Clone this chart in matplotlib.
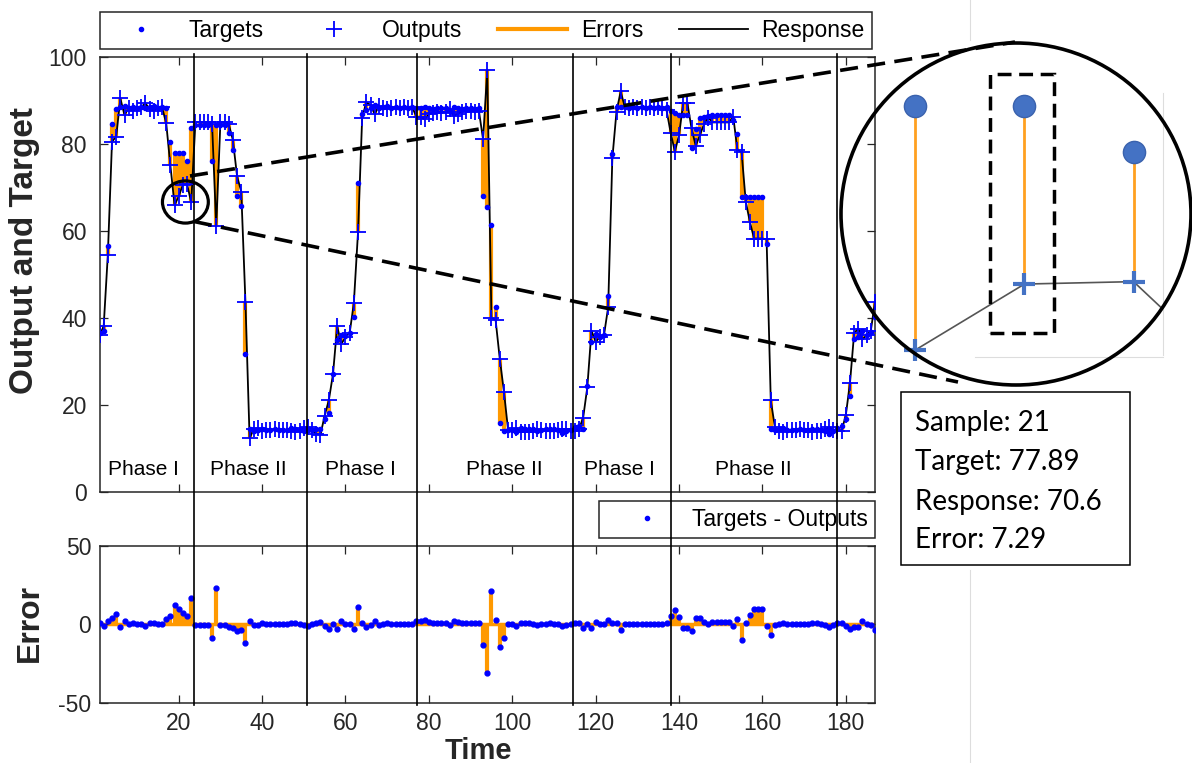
import numpy as np
import matplotlib

matplotlib.use("Agg")
import matplotlib.pyplot as plt
from matplotlib.lines import Line2D
from matplotlib.patches import Ellipse, Rectangle

# ---- data ------------------------------------------------------------------
targets = [
    36.5, 37.0, 56.5, 84.5, 88.0, 88.4, 88.6, 88.3, 88.5, 88.2,
    88.4, 88.3, 88.5, 88.6, 88.3, 88.4, 88.2, 80.5, 77.9, 77.9,
    77.89, 76.0, 83.5, 84.3, 84.4, 84.3, 84.4, 76.0, 84.3, 84.4,
    84.3, 82.5, 78.5, 68.0, 65.6, 31.7, 14.3, 14.0, 14.2, 14.5,
    14.2, 14.1, 14.3, 14.2, 14.2, 14.1, 14.6, 14.5, 14.2, 14.0,
    14.1, 14.2, 14.3, 14.4, 16.7, 18.0, 27.0, 34.8, 36.0, 35.7,
    36.5, 40.1, 70.9, 86.8, 87.8, 88.3, 88.8, 88.2, 88.4, 88.6,
    88.3, 88.4, 88.3, 88.4, 88.3, 88.4, 88.2, 88.2, 88.4, 88.1,
    88.0, 88.2, 88.1, 88.3, 87.6, 88.4, 88.2, 88.0, 88.1, 88.2,
    88.0, 88.1, 68.0, 65.5, 61.3, 42.5, 15.9, 14.0, 14.2, 14.2,
    13.8, 14.6, 14.5, 14.4, 14.3, 13.9, 14.2, 14.4, 14.5, 14.3,
    14.1, 13.6, 13.9, 14.2, 14.8, 15.0, 14.4, 24.4, 34.4, 36.2,
    35.5, 36.0, 45.0, 77.7, 88.5, 88.4, 88.4, 88.3, 88.4, 88.3,
    88.4, 88.3, 88.4, 88.3, 88.4, 88.3, 88.5, 87.6, 87.0, 86.5,
    86.7, 86.7, 79.0, 83.3, 85.8, 86.2, 86.4, 86.6, 86.6, 86.6,
    86.6, 86.6, 85.4, 82.2, 67.7, 67.8, 67.8, 67.8, 67.8, 67.8,
    56.9, 14.4, 14.2, 14.3, 14.6, 14.2, 14.1, 14.2, 14.3, 14.2,
    14.1, 14.4, 14.5, 14.2, 13.9, 13.2, 14.0, 14.6, 15.1, 16.8,
    22.0, 35.0, 35.6, 36.9, 36.0, 36.6, 40.1,
]
errors = [
    0.5, -1.0, 2.0, 4.0, 6.4, -2.0, 2.0, 0.0, 1.0, 0.0,
    0.0, -1.0, 0.5, 1.0, 0.0, 0.0, 3.5, 5.5, 12.0, 10.0,
    7.29, 5.3, 17.0, -0.6, -0.6, -0.6, -0.6, -8.5, 23.3, -0.6,
    -0.6, -2.0, -2.3, -4.5, -3.4, -12.0, 2.0, -0.4, -0.4, 0.6,
    0.0, 0.0, 0.0, 0.0, 0.0, 0.0, 0.6, 0.8, 0.2, -0.6,
    -0.8, 0.0, 1.0, 1.3, -0.8, -3.0, 0.0, -3.2, 2.0, 0.2,
    0.0, -3.2, 11.3, 0.8, -1.7, -0.6, 2.0, -0.4, 0.2, 0.6,
    0.0, 0.0, 0.0, 0.0, 0.0, 0.0, 2.0, 2.0, 2.8, 1.3,
    1.0, 1.0, 1.0, 1.0, -0.4, 2.0, 1.3, 0.6, 0.6, 0.6,
    0.6, 0.6, -13.0, -31.4, 21.4, 3.0, -14.7, -9.0, 0.0, 0.0,
    -0.8, 0.8, 0.8, 0.6, 0.4, -0.4, 0.0, 0.4, 0.6, 0.4,
    0.0, -0.8, -0.4, 0.2, 0.8, 0.6, -2.6, 0.4, -2.6, 1.7,
    0.0, 0.0, 2.6, 1.1, 1.1, -3.6, 0.0, 0.0, 0.0, 0.0,
    0.0, 0.0, 0.0, 0.0, 0.0, 0.0, 0.8, 5.1, 8.8, 4.5,
    -2.6, -2.6, -4.5, 3.8, 3.8, 1.7, 0.4, 1.7, 1.7, 1.7,
    1.7, 1.7, -0.8, 3.6, -10.3, 1.1, 5.8, 9.6, 9.6, 9.6,
    -1.1, -6.6, -0.6, 0.4, 0.8, 0.0, 0.0, 0.0, 0.0, 0.0,
    0.0, 0.6, 0.6, 0.2, -0.4, -1.7, -0.2, 0.6, 1.1, -0.8,
    -3.0, -1.5, -1.9, 1.9, 0.0, -0.4, -3.6,
]
phase_bounds = [23.5, 50.7, 77.1, 114.5, 138.1, 177.8]
phase_names = ["Phase I", "Phase II", "Phase I", "Phase II", "Phase I", "Phase II"]
phase_centers = [11.5, 36.7, 63.7, 98.2, 125.7, 157.9]
x_ticks = [20, 40, 60, 80, 100, 120, 140, 160, 180]
zoom_sample = 21

samples = np.arange(1, len(targets) + 1)
t = np.array(targets)
e = np.array(errors)
outputs = t - e

W, H = 1192, 763
ORANGE = "#FF9900"
BLUE = "#0000FF"
INSET_BLUE = "#4472C4"
EDGE = "#262626"

plt.rcParams["font.family"] = ["Liberation Sans", "DejaVu Sans"]
plt.rcParams["axes.unicode_minus"] = False


def fig_xy(px, py):
    return px / W, 1 - py / H


def fig_rect(left, top, right, bottom):
    return [left / W, 1 - bottom / H, (right - left) / W, (bottom - top) / H]


fig = plt.figure(figsize=(W / 100, H / 100), dpi=100)
ax = fig.add_axes(fig_rect(99.5, 56.7, 875, 491.7))
ax_err = fig.add_axes(fig_rect(99.5, 546, 875, 702.5))

# ---- top panel ---------------------------------------------------------------
ax.vlines(samples, t, outputs, color=ORANGE, linewidth=3.0, zorder=1)
ax.plot(samples, outputs, color="black", linewidth=1.3, zorder=2)
ax.plot(samples, outputs, linestyle="none", marker="+", markersize=11,
        markeredgewidth=1.3, color=BLUE, zorder=3)
ax.plot(samples, t, linestyle="none", marker=".", markersize=6, color=BLUE, zorder=4)

for name, cx in zip(phase_names, phase_centers):
    ax.text(cx, 5.0, name, ha="center", va="center", fontsize=15)

ax.set_xlim(1, len(targets))
ax.set_ylim(0, 100)
ax.set_yticks(np.arange(0, 101, 20))
ax.set_xticks(x_ticks)
ax.set_xticklabels([])

handles = [
    Line2D([], [], linestyle="none", marker=".", markersize=6, color=BLUE),
    Line2D([], [], linestyle="none", marker="+", markersize=11, markeredgewidth=1.3, color=BLUE),
    Line2D([], [], color=ORANGE, linewidth=3),
    Line2D([], [], color="black", linewidth=1.3),
]
leg = ax.legend(handles, ["Targets", "Outputs", "Errors", "Response"],
                loc="lower left", bbox_to_anchor=(0, 1.0177, 0.9955, 0.05),
                mode="expand", ncol=4, borderaxespad=0, fancybox=False,
                framealpha=1, edgecolor=EDGE, fontsize=16.5, handlelength=3.0,
                handletextpad=0.6, borderpad=0.3)
leg.get_frame().set_linewidth(1.1)

# small zoom circle around the highlighted sample
ax.add_patch(Ellipse((21.6, 66.6), 11.0, 9.7, fill=False, edgecolor="black",
                     linewidth=2.3, clip_on=False, zorder=6))

# ---- error panel -------------------------------------------------------------
ax_err.axhline(0, color=ORANGE, linewidth=2.5, zorder=1)
ax_err.vlines(samples, 0, e, color=ORANGE, linewidth=3.0, zorder=1)
ax_err.plot(samples, e, linestyle="none", marker=".", markersize=7, color=BLUE, zorder=3)
ax_err.set_xlim(1, len(targets))
ax_err.set_ylim(-50, 50)
ax_err.set_yticks([-50, 0, 50])
ax_err.set_xticks(x_ticks)
leg2 = ax_err.legend([handles[0]], ["Targets - Outputs"], loc="lower right",
                     bbox_to_anchor=(0.9995, 1.051), borderaxespad=0, fancybox=False,
                     framealpha=1, edgecolor=EDGE, fontsize=16.5, handlelength=3.6,
                     handletextpad=0.15, borderpad=0.3)
leg2.get_frame().set_linewidth(1.1)

for a, ypad in ((ax, 9), (ax_err, 6)):
    a.tick_params(direction="in", top=True, right=True, length=5.5, width=0.9,
                  labelsize=16.5, colors=EDGE, labelcolor=EDGE)
    a.tick_params(axis="y", pad=ypad)
    for sp in a.spines.values():
        sp.set_linewidth(1.1)
        sp.set_color(EDGE)
ax_err.tick_params(axis="x", pad=7)

fig.text(*fig_xy(25, 250), "Output and Target", rotation=90, ha="center", va="center",
         fontsize=24, fontweight="bold", color=EDGE)
fig.text(*fig_xy(30, 623), "Error", rotation=90, ha="center", va="center",
         fontsize=23, fontweight="bold", color=EDGE)
fig.text(*fig_xy(478, 751), "Time", ha="center", va="center",
         fontsize=21, fontweight="bold", color=EDGE)

# phase boundaries span both panels
x0_px, px_per = 95.85, 4.1675
for b in phase_bounds:
    xb = (x0_px + px_per * b) / W
    fig.add_artist(Line2D([xb, xb], [1 - 54 / H, 1 - 705 / H], color="black",
                          linewidth=1.2, transform=fig.transFigure, zorder=5))

# ---- magnified inset ------------------------------------------------------------
ins = fig.add_axes(fig_rect(899, 60, 1163, 380))
ins.patch.set_alpha(0)
ins.set_axis_off()
i0 = zoom_sample - 2
sel = slice(i0, i0 + 3)
ins.plot(samples[i0:i0 + 4], outputs[i0:i0 + 4], color="#555555", linewidth=1.2, zorder=1)
ins.vlines(samples[sel], outputs[sel], t[sel], color="#FFA020", linewidth=2.0, zorder=2)
ins.plot(samples[sel], t[sel], linestyle="none", marker="o", markersize=16,
         color=INSET_BLUE, markeredgecolor="#3A62AD", zorder=3)
ins.plot(samples[sel], outputs[sel], linestyle="none", marker="+", markersize=16,
         markeredgewidth=3.0, color=INSET_BLUE, zorder=3)
ins.set_xlim(zoom_sample - 1.15, zoom_sample + 1.27)
ins.set_ylim(66.67, 79.78)
ins.add_patch(Rectangle((zoom_sample - 0.32, 68.6), 0.59, 10.6, fill=False,
                        edgecolor="black", linewidth=2.5, linestyle=(0, (4, 2.2)),
                        clip_on=False, zorder=4))

# faint outline of the pasted magnified image
for xs, ys in (([1163, 1163], [93, 355]), ([975, 1163], [357, 357]),
               ([970, 970], [0, 40]), ([970, 970], [570, 763])):
    fig.add_artist(Line2D([x / W for x in xs], [1 - y / H for y in ys],
                          color="#DDDDDD", linewidth=0.8, transform=fig.transFigure))

fig.add_artist(Ellipse(fig_xy(1016, 214), 350 / W, 342 / H, fill=False,
                       edgecolor="black", linewidth=2.6, transform=fig.transFigure, zorder=6))
for (xa, ya), (xb_, yb) in (((190, 176), (1015, 42)), ((194, 221.5), (958, 382))):
    fig.add_artist(Line2D([xa / W, xb_ / W], [1 - ya / H, 1 - yb / H], color="black",
                          linewidth=2.6, linestyle=(0, (5, 2.6)),
                          transform=fig.transFigure, zorder=6))

# data tip box
k = zoom_sample - 1
fig.add_artist(Rectangle(fig_xy(901, 565), 229 / W, 173 / H, fill=False,
                         edgecolor="black", linewidth=1.1, transform=fig.transFigure))
tip_lines = [
    f"Sample: {samples[k]}",
    f"Target: {t[k]:.2f}",
    f"Response: {outputs[k]:.1f}",
    f"Error: {e[k]:.2f}",
]
for line, base in zip(tip_lines, [431, 470, 510, 548]):
    fig.text(*fig_xy(915, base), line, ha="left", va="baseline", fontsize=20,
             family=["Lato", "DejaVu Sans"], color="black")

fig.savefig("out.png", dpi=100)
